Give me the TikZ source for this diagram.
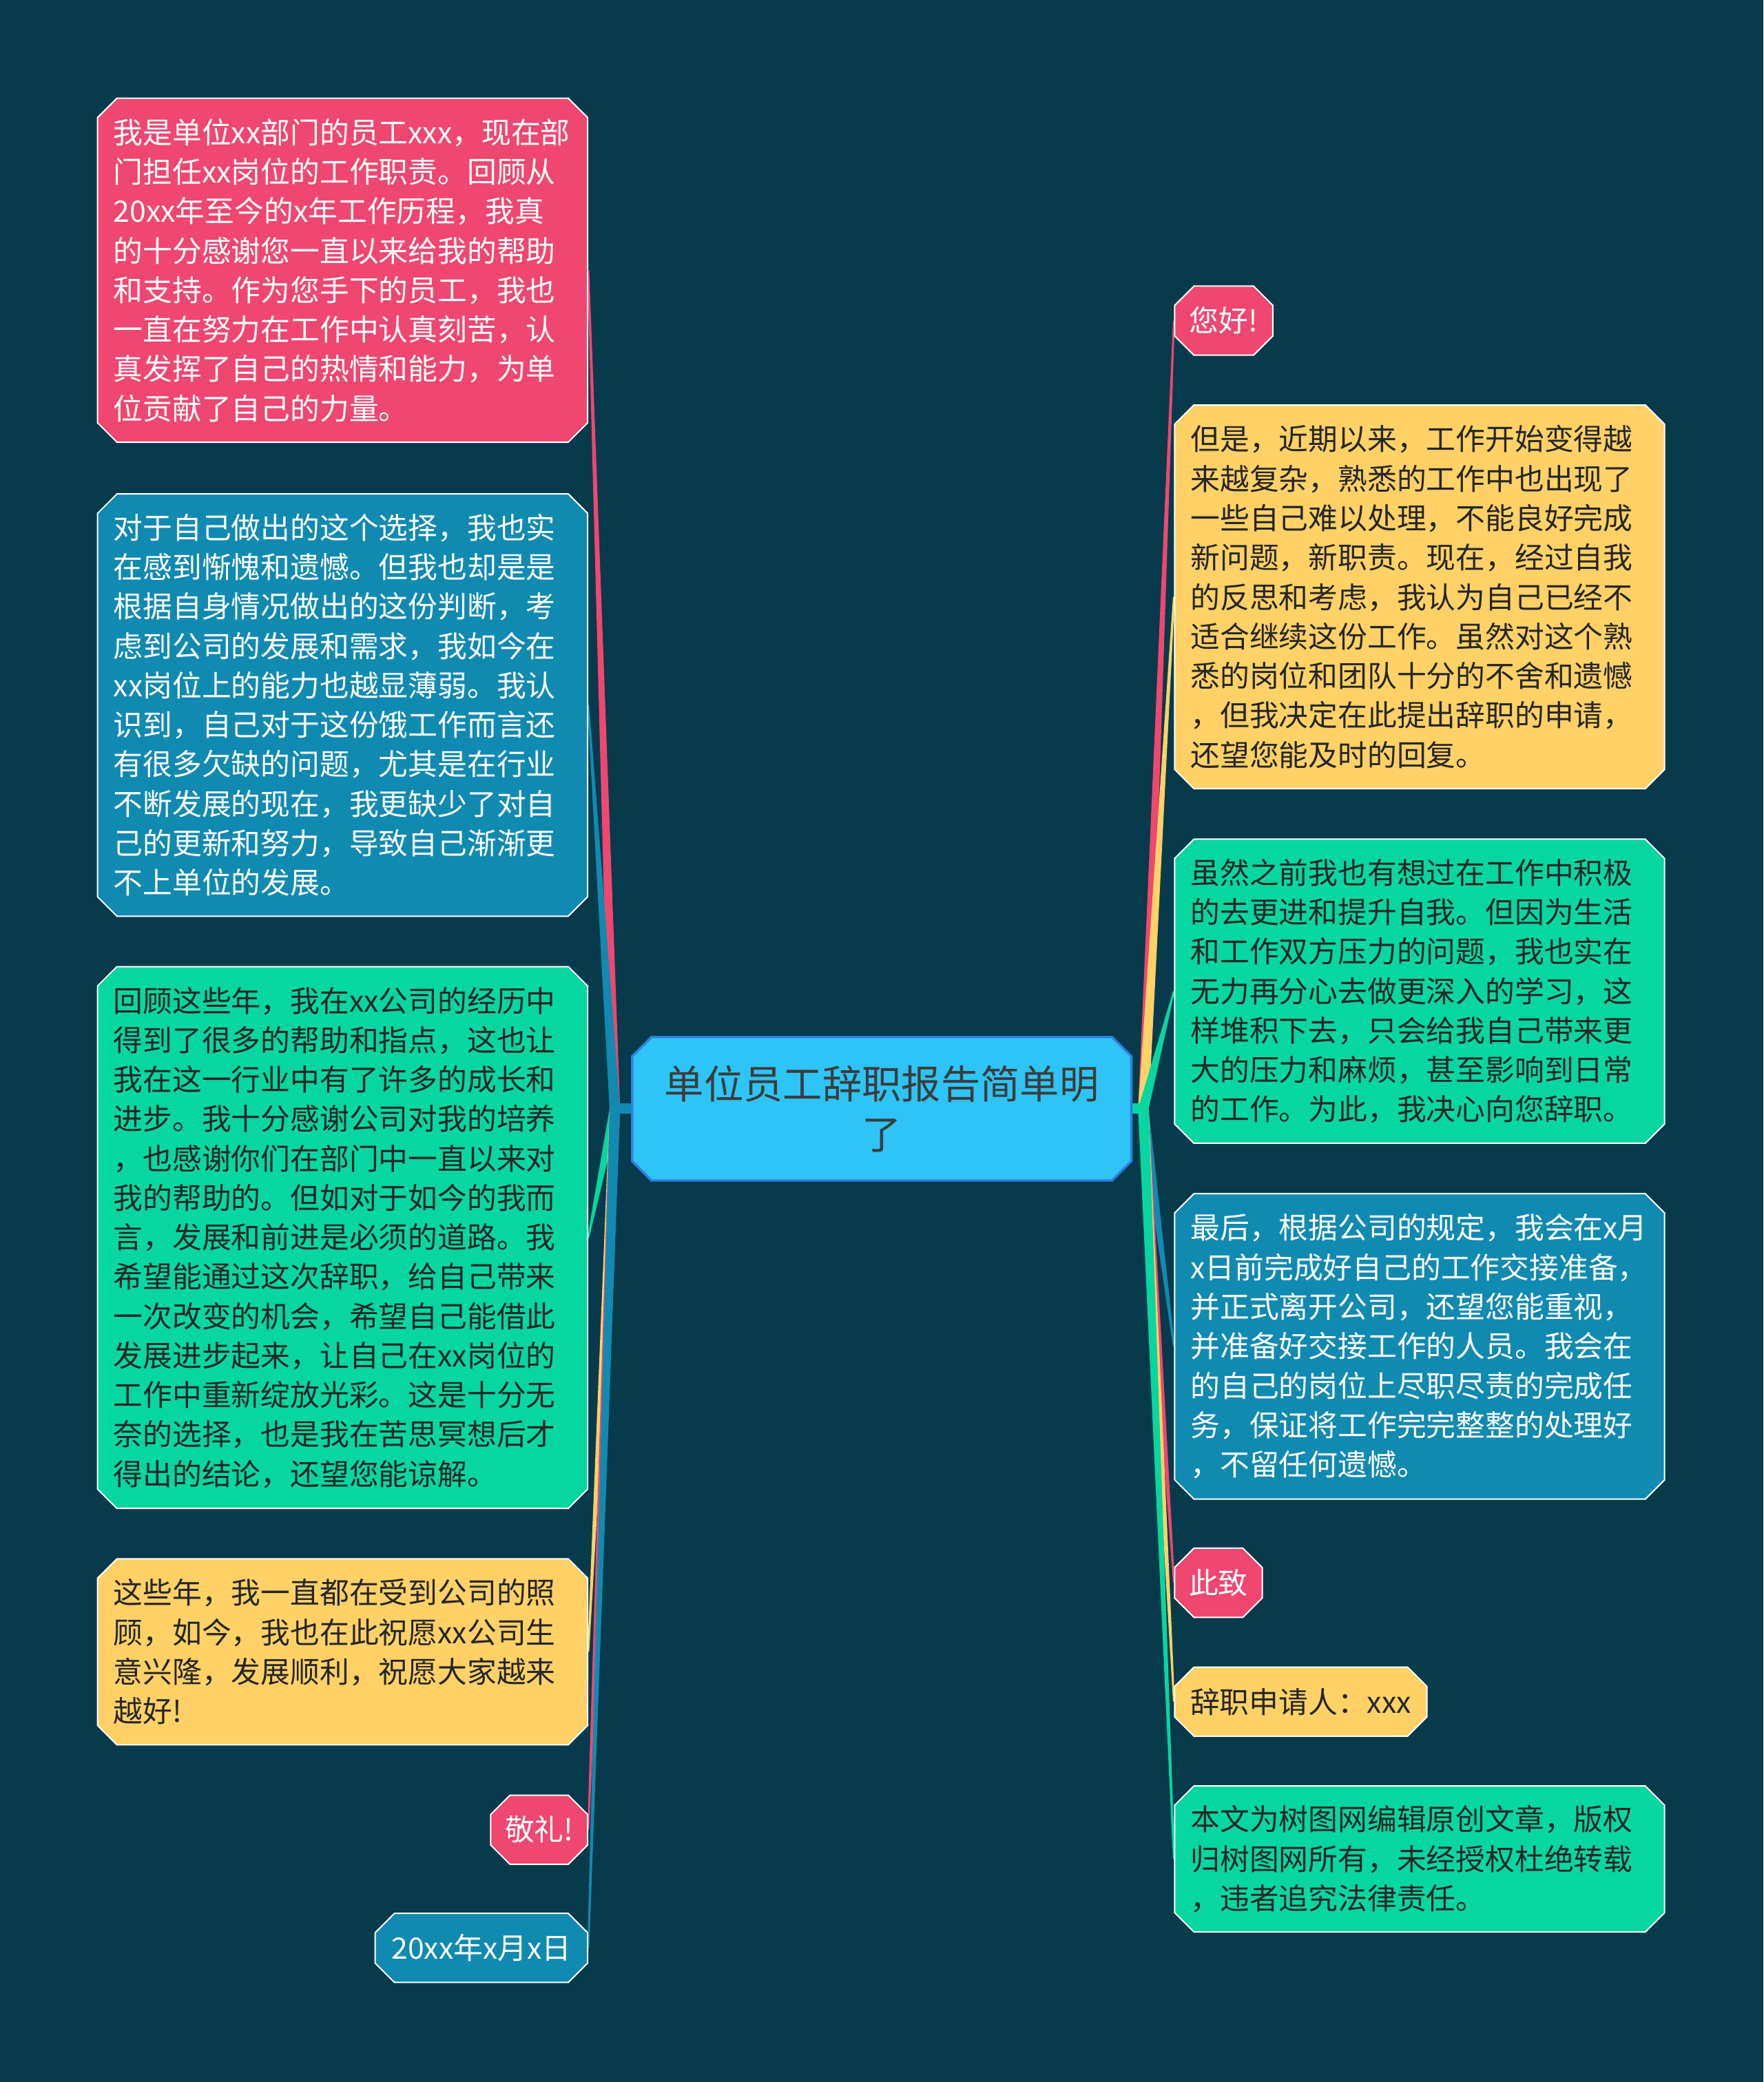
\documentclass[tikz,border=0pt]{standalone}
\usepackage{fontspec}
\setmainfont{Noto Sans CJK SC}
\usetikzlibrary{shapes.misc,backgrounds}

\definecolor{bgc}{HTML}{073B4C}
\definecolor{pinkc}{HTML}{EF476F}
\definecolor{yellowc}{HTML}{FFD166}
\definecolor{greenc}{HTML}{06D6A0}
\definecolor{bluec}{HTML}{118AB2}
\definecolor{rootc}{HTML}{2EC4F6}
\definecolor{rootline}{HTML}{2F7DE0}
\definecolor{darktext}{HTML}{262626}

\newcommand{\pxu}{0.5784pt}
\newcommand{\leaffont}{\fontsize{12.84pt}{17.18pt}\selectfont}
\newcommand{\branchline}[3]{%
  \fill[#1] ([xshift=-2.3pt]#2) -- ([xshift=-0.4pt]#3)
    -- ([xshift=0.4pt]#3) -- ([xshift=2.3pt]#2) -- cycle;}

\begin{document}
\begin{tikzpicture}[
  x=\pxu, y=-\pxu,
  leaf/.style={chamfered rectangle, chamfered rectangle xsep=4.8pt,
    draw=white, line width=0.6pt, font=\leaffont, align=left,
    inner xsep=1pt, inner ysep=1pt},
  pinkleaf/.style={leaf, fill=pinkc, text=white},
  blueleaf/.style={leaf, fill=bluec, text=white},
  greenleaf/.style={leaf, fill=greenc, text=darktext},
  yellowleaf/.style={leaf, fill=yellowc, text=darktext},
  wide/.style={minimum width=369*\pxu, text width=345*\pxu},
  small/.style={minimum height=52*\pxu}
]
\useasboundingbox (0,0) rectangle (1328,1568);

%--------------------
% 中心
%--------------------
\node[chamfered rectangle, chamfered rectangle xsep=4.8pt,
  fill=rootc, draw=rootline, line width=1pt, text=darktext!90!white,
  font=\fontsize{17.2pt}{22pt}\selectfont, align=center,
  minimum width=376*\pxu, minimum height=108*\pxu]
  (root) at (664,835) {单位员工辞职报告简单明\\了};

\coordinate (jl) at (463,835);
\coordinate (jr) at (861,835);

%--------------------
% 左側
%--------------------
\node[pinkleaf, wide, minimum height=259*\pxu, anchor=east] (l1) at (443,203.5)
  {我是单位xx部门的员工xxx，现在部\\门担任xx岗位的工作职责。回顾从\\20xx年至今的x年工作历程，我真\\的十分感谢您一直以来给我的帮助\\和支持。作为您手下的员工，我也\\一直在努力在工作中认真刻苦，认\\真发挥了自己的热情和能力，为单\\位贡献了自己的力量。};
\node[blueleaf, wide, minimum height=318*\pxu, anchor=east] (l2) at (443,531)
  {对于自己做出的这个选择，我也实\\在感到惭愧和遗憾。但我也却是是\\根据自身情况做出的这份判断，考\\虑到公司的发展和需求，我如今在\\xx岗位上的能力也越显薄弱。我认\\识到，自己对于这份饿工作而言还\\有很多欠缺的问题，尤其是在行业\\不断发展的现在，我更缺少了对自\\己的更新和努力，导致自己渐渐更\\不上单位的发展。};
\node[greenleaf, wide, minimum height=408*\pxu, anchor=east] (l3) at (443,932)
  {回顾这些年，我在xx公司的经历中\\得到了很多的帮助和指点，这也让\\我在这一行业中有了许多的成长和\\进步。我十分感谢公司对我的培养\\，也感谢你们在部门中一直以来对\\我的帮助的。但如对于如今的我而\\言，发展和前进是必须的道路。我\\希望能通过这次辞职，给自己带来\\一次改变的机会，希望自己能借此\\发展进步起来，让自己在xx岗位的\\工作中重新绽放光彩。这是十分无\\奈的选择，也是我在苦思冥想后才\\得出的结论，还望您能谅解。};
\node[yellowleaf, wide, minimum height=140*\pxu, anchor=east] (l4) at (443,1244)
  {这些年，我一直都在受到公司的照\\顾，如今，我也在此祝愿xx公司生\\意兴隆，发展顺利，祝愿大家越来\\越好!};
\node[pinkleaf, small, minimum width=73*\pxu, anchor=east] (l5) at (443,1378) {敬礼!};
\node[blueleaf, small, minimum width=160*\pxu, anchor=east] (l6) at (443,1467) {20xx年x月x日};

%--------------------
% 右側
%--------------------
\node[pinkleaf, small, minimum width=74*\pxu, anchor=west] (r1) at (884,241.5) {您好!};
\node[yellowleaf, wide, minimum height=289*\pxu, anchor=west] (r2) at (884,449.5)
  {但是，近期以来，工作开始变得越\\来越复杂，熟悉的工作中也出现了\\一些自己难以处理，不能良好完成\\新问题，新职责。现在，经过自我\\的反思和考虑，我认为自己已经不\\适合继续这份工作。虽然对这个熟\\悉的岗位和团队十分的不舍和遗憾\\，但我决定在此提出辞职的申请，\\还望您能及时的回复。};
\node[greenleaf, wide, minimum height=229*\pxu, anchor=west] (r3) at (884,746.5)
  {虽然之前我也有想过在工作中积极\\的去更进和提升自我。但因为生活\\和工作双方压力的问题，我也实在\\无力再分心去做更深入的学习，这\\样堆积下去，只会给我自己带来更\\大的压力和麻烦，甚至影响到日常\\的工作。为此，我决心向您辞职。};
\node[blueleaf, wide, minimum height=230*\pxu, anchor=west] (r4) at (884,1014)
  {最后，根据公司的规定，我会在x月\\x日前完成好自己的工作交接准备，\\并正式离开公司，还望您能重视，\\并准备好交接工作的人员。我会在\\的自己的岗位上尽职尽责的完成任\\务，保证将工作完完整整的处理好\\，不留任何遗憾。};
\node[pinkleaf, small, minimum width=66*\pxu, anchor=west] (r5) at (884,1192) {此致};
\node[yellowleaf, small, minimum width=190*\pxu, anchor=west] (r6) at (884,1281.5) {辞职申请人：xxx};
\node[greenleaf, wide, minimum height=110*\pxu, anchor=west] (r7) at (884,1400)
  {本文为树图网编辑原创文章，版权\\归树图网所有，未经授权杜绝转载\\，违者追究法律责任。};

%--------------------
% 背景と枝
%--------------------
\begin{scope}[on background layer]
  \fill[bgc] (0,0) rectangle (1328,1568);

  \branchline{pinkc}{jl}{l1.east}
  \branchline{bluec}{jl}{l2.east}
  \branchline{greenc}{jl}{l3.east}
  \branchline{yellowc}{jl}{l4.east}
  \branchline{pinkc}{jl}{l5.east}
  \branchline{bluec}{jl}{l6.east}
  \draw[bluec, line width=4.5pt] (jl) -- (root.west);

  \branchline{pinkc}{jr}{r1.west}
  \branchline{yellowc}{jr}{r2.west}
  \branchline{greenc}{jr}{r3.west}
  \branchline{bluec}{jr}{r4.west}
  \branchline{pinkc}{jr}{r5.west}
  \branchline{yellowc}{jr}{r6.west}
  \branchline{greenc}{jr}{r7.west}
  \draw[greenc, line width=4.5pt] (jr) -- (root.east);
\end{scope}

\end{tikzpicture}
\end{document}
